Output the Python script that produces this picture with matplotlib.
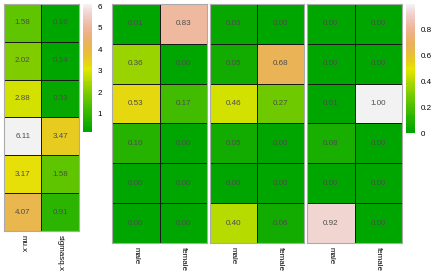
import colorsys
import numpy as np
import matplotlib
matplotlib.use("Agg")
import matplotlib.pyplot as plt
from matplotlib.colors import ListedColormap, Normalize

plt.rcParams["font.family"] = ["Liberation Sans", "DejaVu Sans"]

# data, rows top to bottom
mu_x = [1.58, 2.02, 2.88, 6.11, 3.17, 4.07]
sigmasq_x = [0.16, 0.14, 0.33, 3.47, 1.58, 0.91]
left_labels = ["mu.x", "sigmasq.x"]

group_labels = ["male", "female"]
g1_male = [0.01, 0.36, 0.53, 0.10, 0.00, 0.00]
g1_female = [0.83, 0.00, 0.17, 0.00, 0.00, 0.00]
g2_male = [0.03, 0.05, 0.46, 0.05, 0.00, 0.40]
g2_female = [0.00, 0.68, 0.27, 0.00, 0.00, 0.06]
g3_male = [0.00, 0.00, 0.01, 0.08, 0.00, 0.92]
g3_female = [0.00, 0.00, 1.00, 0.00, 0.00, 0.00]


def terrain_colors(n):
    # same recipe as R's terrain.colors
    k = n // 2
    cols = []
    h = np.linspace(4 / 12, 2 / 12, k)
    s = np.linspace(1, 1, k)
    v = np.linspace(0.65, 0.9, k)
    for a, b, c in zip(h, s, v):
        cols.append(colorsys.hsv_to_rgb(a, b, c))
    h = np.linspace(2 / 12, 0, n - k + 1)[1:]
    s = np.linspace(1, 0, n - k + 1)[1:]
    v = np.linspace(0.9, 0.95, n - k + 1)[1:]
    for a, b, c in zip(h, s, v):
        cols.append(colorsys.hsv_to_rgb(a, b, c))
    return cols


cmap = ListedColormap(terrain_colors(60))

W, H = 432, 272
fig = plt.figure(figsize=(W / 100, H / 100), dpi=100)


def px_axes(x0, y0, x1, y1):
    return fig.add_axes([x0 / W, 1 - y1 / H, (x1 - x0) / W, (y1 - y0) / H])


def heat(ax, cols, labels, norm):
    data = np.array(cols).T
    ax.pcolormesh(data, cmap=cmap, norm=norm, edgecolors="#1a1a1a", linewidth=0.7)
    ax.set_xlim(0, data.shape[1])
    ax.set_ylim(data.shape[0], 0)
    for i in range(data.shape[0]):
        for j in range(data.shape[1]):
            ax.text(j + 0.5, i + 0.5, f"{data[i, j]:.2f}", ha="center", va="center",
                    fontsize=5.8, color="#4d4d4d")
    ax.set_yticks([])
    ax.set_xticks(np.arange(data.shape[1]) + 0.5)
    ax.set_xticklabels(labels, rotation=-90, fontsize=5.8, va="top")
    ax.tick_params(axis="x", length=0, pad=3)
    for sp in ax.spines.values():
        sp.set_color("#aaaaaa")
        sp.set_linewidth(0.8)


def cbar(ax, norm, ticks, ticklabels):
    vals = np.linspace(norm.vmin, norm.vmax, 200)
    ax.pcolormesh([0, 1], vals, np.column_stack([vals, vals])[:-1, :1], cmap=cmap, norm=norm)
    ax.set_ylim(norm.vmin, norm.vmax)
    ax.set_xlim(0, 1)
    ax.set_xticks([])
    ax.yaxis.tick_right()
    ax.set_yticks(ticks)
    ax.set_yticklabels(ticklabels, fontsize=5.8)
    ax.tick_params(axis="y", length=2, color="white", pad=2)
    for sp in ax.spines.values():
        sp.set_visible(False)


norm1 = Normalize(vmin=min(sigmasq_x), vmax=max(mu_x))
ax = px_axes(4, 4, 79, 231)
heat(ax, [mu_x, sigmasq_x], left_labels, norm1)
cb1 = px_axes(83, 4, 92, 132)
cbar(cb1, norm1, [1, 2, 3, 4, 5, 6], ["1", "2", "3", "4", "5", "6"])

norm2 = Normalize(vmin=0, vmax=1)
groups = [(g1_male, g1_female), (g2_male, g2_female), (g3_male, g3_female)]
xs = [(112, 207), (210, 304), (307, 402)]
for (m, f), (x0, x1) in zip(groups, xs):
    ax = px_axes(x0, 4, x1, 243)
    heat(ax, [m, f], group_labels, norm2)

cb2 = px_axes(406, 4, 415, 133)
cbar(cb2, norm2, [0, 0.2, 0.4, 0.6, 0.8], ["0", "0.2", "0.4", "0.6", "0.8"])

fig.savefig("out.png", dpi=100)
